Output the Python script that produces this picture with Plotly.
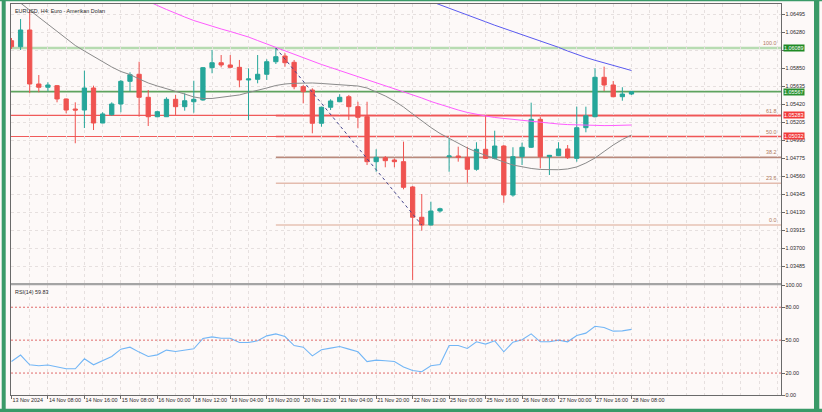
import plotly.graph_objects as go

# ---------------- data ----------------
bars = list(range(69))

opens = [1.06176, 1.06104, 1.06304, 1.05659, 1.05620, 1.05639, 1.05480, 1.05360, 1.05348, 1.05611,
         1.05193, 1.05292, 1.05420, 1.05691, 1.05775, 1.05500, 1.05268, 1.05268, 1.05476, 1.05388,
         1.05447, 1.05468, 1.05854, 1.05913, 1.05886, 1.05858, 1.05707, 1.05715, 1.05775, 1.05925,
         1.05993, 1.05918, 1.05627, 1.05587, 1.05190, 1.05381, 1.05447, 1.05507, 1.05388, 1.05268,
         1.04731, 1.04779, 1.04751, 1.04731, 1.04429, 1.04067, 1.03975, 1.04142, 1.04791, 1.04799,
         1.04783, 1.04640, 1.04879, 1.04771, 1.04918, 1.04333, 1.04791, 1.04903, 1.05237, 1.04791,
         1.04803, 1.04883, 1.04771, 1.05137, 1.05268, 1.05739, 1.05647, 1.05507, 1.05539]
highs = [1.06208, 1.06435, 1.06543, 1.05766, 1.05679, 1.05647, 1.05486, 1.05440, 1.05818, 1.05639,
         1.05321, 1.05440, 1.05707, 1.05799, 1.05925, 1.05587, 1.05340, 1.05500, 1.05528, 1.05548,
         1.05698, 1.05862, 1.06065, 1.06005, 1.06005, 1.05946, 1.05846, 1.06005, 1.05954, 1.06089,
         1.06026, 1.05946, 1.05647, 1.05608, 1.05388, 1.05476, 1.05536, 1.05528, 1.05447, 1.05447,
         1.04879, 1.04799, 1.04771, 1.04970, 1.04441, 1.04345, 1.04253, 1.04181, 1.05010, 1.04910,
         1.04910, 1.04963, 1.05289, 1.05101, 1.04930, 1.04903, 1.04958, 1.05436, 1.05268, 1.04811,
         1.04963, 1.04930, 1.05388, 1.05388, 1.05846, 1.05866, 1.05695, 1.05620, 1.05575]
lows = [1.06077, 1.06065, 1.05548, 1.05560, 1.05572, 1.05440, 1.05309, 1.04951, 1.05133, 1.05109,
        1.05190, 1.05280, 1.05321, 1.05572, 1.05268, 1.05157, 1.05261, 1.05265, 1.05289, 1.05340,
        1.05316, 1.05459, 1.05787, 1.05858, 1.05846, 1.05620, 1.05229, 1.05667, 1.05707, 1.05898,
        1.05866, 1.05596, 1.05428, 1.05070, 1.05149, 1.05348, 1.05445, 1.05229, 1.05130, 1.04691,
        1.04611, 1.04664, 1.04664, 1.04401, 1.03318, 1.03907, 1.03969, 1.04122, 1.04611, 1.04731,
        1.04480, 1.04623, 1.04763, 1.04759, 1.04241, 1.04313, 1.04691, 1.04894, 1.04652, 1.04572,
        1.04795, 1.04763, 1.04731, 1.05082, 1.05261, 1.05575, 1.05500, 1.05459, 1.05528]
closes = [1.06104, 1.06304, 1.05659, 1.05620, 1.05647, 1.05480, 1.05348, 1.05348, 1.05611, 1.05193,
          1.05301, 1.05420, 1.05691, 1.05770, 1.05500, 1.05268, 1.05328, 1.05476, 1.05388, 1.05459,
          1.05476, 1.05854, 1.05913, 1.05886, 1.05858, 1.05707, 1.05719, 1.05775, 1.05925, 1.05985,
          1.05913, 1.05627, 1.05567, 1.05190, 1.05381, 1.05456, 1.05500, 1.05388, 1.05261, 1.04731,
          1.04783, 1.04743, 1.04731, 1.04425, 1.04067, 1.03975, 1.04142, 1.04169, 1.04799, 1.04783,
          1.04640, 1.04879, 1.04771, 1.04918, 1.04333, 1.04791, 1.04903, 1.05237, 1.04791, 1.04807,
          1.04883, 1.04779, 1.05137, 1.05280, 1.05739, 1.05647, 1.05507, 1.05539, 1.05567]

ma_gray = [1.06710, 1.06626, 1.06537, 1.06447, 1.06364, 1.06280, 1.06202, 1.06119, 1.06053, 1.05987,
           1.05922, 1.05862, 1.05808, 1.05772, 1.05719, 1.05671, 1.05635, 1.05605, 1.05575, 1.05539,
           1.05504, 1.05486, 1.05486, 1.05498, 1.05510, 1.05528, 1.05557, 1.05581, 1.05611, 1.05641,
           1.05659, 1.05667, 1.05671, 1.05671, 1.05665, 1.05659, 1.05653, 1.05647, 1.05635, 1.05611,
           1.05563, 1.05516, 1.05456, 1.05384, 1.05301, 1.05217, 1.05139, 1.05068, 1.05008, 1.04954,
           1.04894, 1.04847, 1.04805, 1.04763, 1.04727, 1.04691, 1.04668, 1.04650, 1.04638, 1.04632,
           1.04635, 1.04644, 1.04668, 1.04715, 1.04775, 1.04853, 1.04930, 1.04996, 1.05050]
ma_magenta = [None] * 14 + [
    1.06698, 1.06644, 1.06597, 1.06549, 1.06501, 1.06459,
    1.06417, 1.06382, 1.06346, 1.06316, 1.06286, 1.06256, 1.06220, 1.06178, 1.06137, 1.06095,
    1.06053, 1.06011, 1.05969, 1.05928, 1.05892, 1.05856, 1.05820, 1.05784, 1.05749, 1.05713,
    1.05677, 1.05641, 1.05605, 1.05569, 1.05534, 1.05492, 1.05450, 1.05414, 1.05378, 1.05348,
    1.05319, 1.05295, 1.05277, 1.05259, 1.05247, 1.05235, 1.05223, 1.05211, 1.05199, 1.05190,
    1.05181, 1.05174, 1.05169, 1.05166, 1.05163, 1.05162, 1.05163, 1.05166, 1.05169]
ma_blue = [None] * 45 + [
    1.06686, 1.06644, 1.06603, 1.06563, 1.06522,
    1.06483, 1.06441, 1.06402, 1.06361, 1.06324, 1.06288, 1.06251, 1.06214, 1.06177, 1.06140,
    1.06097, 1.06053, 1.06011, 1.05975, 1.05942, 1.05910, 1.05880, 1.05850, 1.05820]

rsi = [30.5, 36.4, 27.5, 26.6, 27.3, 25.4, 23.9, 23.9, 33.0, 27.5,
       31.2, 35.1, 41.8, 43.6, 39.1, 35.1, 36.6, 40.9, 39.7, 41.2,
       42.1, 51.5, 53.0, 51.8, 51.8, 47.8, 47.8, 49.4, 53.9, 55.7,
       53.3, 45.1, 43.6, 35.7, 41.2, 42.7, 44.2, 41.8, 39.4, 30.5,
       31.8, 31.2, 30.5, 25.5, 22.4, 21.2, 26.6, 27.8, 45.1, 45.1,
       42.4, 48.5, 46.4, 49.4, 39.4, 48.2, 50.3, 55.7, 48.5, 48.5,
       50.0, 48.5, 54.2, 56.4, 62.7, 61.5, 58.2, 58.5, 59.83]
rsi_levels = [20, 50, 80]
rsi_ticks = [0, 20, 50, 80, 100]
rsi_tick_text = ["0.00", "20.00", "50.00", "80.00", "100.00"]

time_tick_bars = [0, 4, 8, 12, 16, 20, 24, 28, 32, 36, 40, 44, 48, 52, 56, 60, 64, 68]
time_labels = ["13 Nov 2024", "14 Nov 08:00", "14 Nov 16:00", "15 Nov 08:00", "16 Nov 00:00",
               "18 Nov 12:00", "19 Nov 04:00", "19 Nov 20:00", "20 Nov 12:00", "21 Nov 04:00",
               "21 Nov 20:00", "22 Nov 12:00", "25 Nov 00:00", "25 Nov 16:00", "26 Nov 08:00",
               "27 Nov 00:00", "27 Nov 16:00", "28 Nov 08:00"]

price_ticks = [1.03485, 1.03700, 1.03915, 1.04130, 1.04345, 1.04560, 1.04775, 1.04990,
               1.05205, 1.05420, 1.05635, 1.05850, 1.06065, 1.06280, 1.06495]
price_tick_text = ["1.03485", "1.03700", "1.03915", "1.04130", "1.04345", "1.04560", "1.04775", "1.04990",
                   "1.05205", "1.05420", "1.05635", "1.05850", "", "1.06280", "1.06495"]

fib_high, fib_low = 1.06089, 1.03974
fib_start_bar, fib_end_bar = 29, 45
fib_levels = [100.0, 61.8, 50.0, 38.2, 23.6, 0.0]
fib_labels = ["100.0", "61.8", "50.0", "38.2", "23.6", "0.0"]

bid_price = 1.05567
red_lines = [1.05283, 1.05032]
tags = [("1.06089", 1.06089, "#1f8a24"), ("1.05567", 1.05567, "#2a9130"),
        ("1.05283", 1.05283, "#f23a3a"), ("1.05032", 1.05032, "#f23a3a")]

title_text = "EURUSD, H4: Euro - Amerikan Doları"
rsi_title = "RSI(14) 59.83"

# ---------------- style ----------------
W, H = 822, 412
ML, MR, MT, MB = 11, 41, 4, 17
X_MIN, X_MAX = -0.05, 84.4
Y_MIN, Y_MAX = 1.032819, 1.066144
FONT = "Liberation Sans"
FS = 5.4
TXT = "#2a2a2a"
BG = "#fdf9f8"
GRID = "#e6e0df"
AX = "#6a6a6a"
TEAL = "#26a69a"
RED = "#ef5350"
GREEN_FRAME = "#3a9a68"

PH = H - MT - MB
PW = W - ML - MR


def px_x(p):
    return (p - ML) / PW


def px_y(p):
    return (H - MB - p) / PH


main_dom = [px_y(283), 1]
rsi_dom = [0, px_y(285.3)]

fig = go.Figure()

fig.add_trace(go.Candlestick(
    x=bars, open=opens, high=highs, low=lows, close=closes,
    increasing=dict(line=dict(color=TEAL, width=1), fillcolor=TEAL),
    decreasing=dict(line=dict(color=RED, width=1), fillcolor=RED),
    whiskerwidth=0, showlegend=False, hoverinfo="skip", xaxis="x", yaxis="y"))

for ma, col in [(ma_gray, "#8a8a8a"), (ma_magenta, "#ff5cff"), (ma_blue, "#5a5af0")]:
    fig.add_trace(go.Scatter(x=bars, y=ma, mode="lines", line=dict(color=col, width=1),
                             showlegend=False, hoverinfo="skip", xaxis="x", yaxis="y"))

fig.add_trace(go.Scatter(x=[fib_start_bar, fib_end_bar], y=[fib_high, fib_low], mode="lines",
                         line=dict(color="#45458c", width=1, dash="3px,3px"),
                         showlegend=False, hoverinfo="skip", xaxis="x", yaxis="y"))

fig.add_trace(go.Scatter(x=bars, y=rsi, mode="lines", line=dict(color="#72b6f6", width=1.1),
                         showlegend=False, hoverinfo="skip", xaxis="x2", yaxis="y2"))

shapes = []
fib_cols = ["#b9dcb3", "#f05656", "#f05656", "#b98a7c", "#e4bcae", "#e6c2b4"]
fib_vals = [fib_low + lv / 100.0 * (fib_high - fib_low) for lv in fib_levels]
for v, c in zip(fib_vals, fib_cols):
    shapes.append(dict(type="line", xref="x", yref="y", x0=fib_start_bar, x1=X_MAX, y0=v, y1=v,
                       line=dict(color=c, width=1.6), layer="below"))
shapes.append(dict(type="line", xref="paper", yref="y", x0=0, x1=1, y0=fib_high, y1=fib_high,
                   line=dict(color="#b6dbb0", width=2.4), layer="below"))
shapes.append(dict(type="line", xref="paper", yref="y", x0=0, x1=1, y0=bid_price, y1=bid_price,
                   line=dict(color="#5ea35e", width=1.8), layer="below"))
for v in red_lines:
    shapes.append(dict(type="line", xref="paper", yref="y", x0=0, x1=1, y0=v, y1=v,
                       line=dict(color="#f05a5a", width=1.2), layer="below"))
for lv in rsi_levels:
    shapes.append(dict(type="line", xref="paper", yref="y2", x0=0, x1=1, y0=lv, y1=lv,
                       line=dict(color="#e06a6a", width=1, dash="2px,2px")))
shapes.append(dict(type="rect", xref="paper", yref="paper", x0=0, x1=1,
                   y0=px_y(285.3), y1=px_y(283), fillcolor="#a4a4a4", line=dict(width=0)))
for (x0, x1, y0, y1) in [(1.7, 5.7, 0, 412), (814, 819.3, 0, 412), (0, 822, 0, 1.3), (0, 822, 408.7, 412)]:
    shapes.append(dict(type="rect", xref="paper", yref="paper", x0=px_x(x0), x1=px_x(x1),
                       y0=px_y(y1), y1=px_y(y0), fillcolor=GREEN_FRAME, line=dict(width=0)))

annotations = []
annotations.append(dict(text=title_text, xref="paper", yref="paper", x=0, y=1, xanchor="left",
                        yanchor="top", xshift=1.5, yshift=-1.5, showarrow=False,
                        font=dict(family=FONT, size=FS, color=TXT)))
annotations.append(dict(text=rsi_title, xref="paper", yref="paper", x=0, y=rsi_dom[1], xanchor="left",
                        yanchor="top", xshift=1.5, yshift=-1.5, showarrow=False,
                        font=dict(family=FONT, size=FS, color=TXT)))
for v, lab in zip(fib_vals, fib_labels):
    annotations.append(dict(text=lab, xref="paper", yref="y", x=1, y=v, xanchor="right",
                            yanchor="bottom", xshift=-2, yshift=0, showarrow=False,
                            font=dict(family=FONT, size=FS, color="#b07a5c")))
for lab, v, col in tags:
    annotations.append(dict(text=lab, xref="paper", yref="y", x=1, y=v, xanchor="left",
                            yanchor="middle", xshift=1.5, showarrow=False, bgcolor=col,
                            borderpad=0, font=dict(family=FONT, size=FS, color="#ffffff")))

grid_common = dict(showgrid=True, gridcolor=GRID, griddash="dot", gridwidth=1)
fig.update_layout(
    width=W, height=H, autosize=False,
    margin=dict(l=ML, r=MR, t=MT, b=MB, pad=0, autoexpand=False),
    paper_bgcolor=BG, plot_bgcolor=BG,
    showlegend=False, boxgap=0.33, hovermode=False,
    font=dict(family=FONT, size=FS, color=TXT),
    xaxis=dict(domain=[0, 1], anchor="y", range=[X_MIN, X_MAX], tickvals=time_tick_bars,
               showticklabels=False, ticks="", zeroline=False, automargin=False,
               minor=dict(tickmode="linear", tick0=0, dtick=2, showgrid=True, gridcolor=GRID,
                          griddash="dot", ticklen=0),
               showline=True, mirror=True, linecolor=AX, linewidth=1,
               rangeslider=dict(visible=False), **grid_common),
    xaxis2=dict(domain=[0, 1], anchor="y2", range=[X_MIN, X_MAX], tickvals=time_tick_bars,
                ticktext=time_labels, ticks="outside", ticklen=3, tickcolor=AX,
                ticklabelposition="outside right", tickangle=0, automargin=False,
                tickfont=dict(family=FONT, size=FS, color=TXT), zeroline=False,
                minor=dict(tickmode="linear", tick0=0, dtick=2, showgrid=True, gridcolor=GRID,
                           griddash="dot", ticklen=0),
                showline=True, mirror=True, linecolor=AX, linewidth=1, **grid_common),
    yaxis=dict(domain=main_dom, anchor="x", side="right", range=[Y_MIN, Y_MAX], automargin=False,
               tickvals=price_ticks, ticktext=price_tick_text, ticks="outside", ticklen=2.5,
               tickcolor=AX, tickfont=dict(family=FONT, size=FS, color=TXT), zeroline=False,
               showline=True, mirror=True, linecolor=AX, linewidth=1, **grid_common),
    yaxis2=dict(domain=rsi_dom, anchor="x2", side="right", range=[0, 100], automargin=False,
                tickvals=rsi_ticks, ticktext=rsi_tick_text, ticks="outside", ticklen=2.5,
                tickcolor=AX, tickfont=dict(family=FONT, size=FS, color=TXT), zeroline=False,
                showgrid=False, showline=True, mirror=True, linecolor=AX, linewidth=1),
    shapes=shapes, annotations=annotations,
)

fig.write_html("out.html", config={"displayModeBar": False},
               post_script="document.body.style.margin='0';document.body.style.padding='0';"
                           "document.documentElement.style.overflow='hidden';")
